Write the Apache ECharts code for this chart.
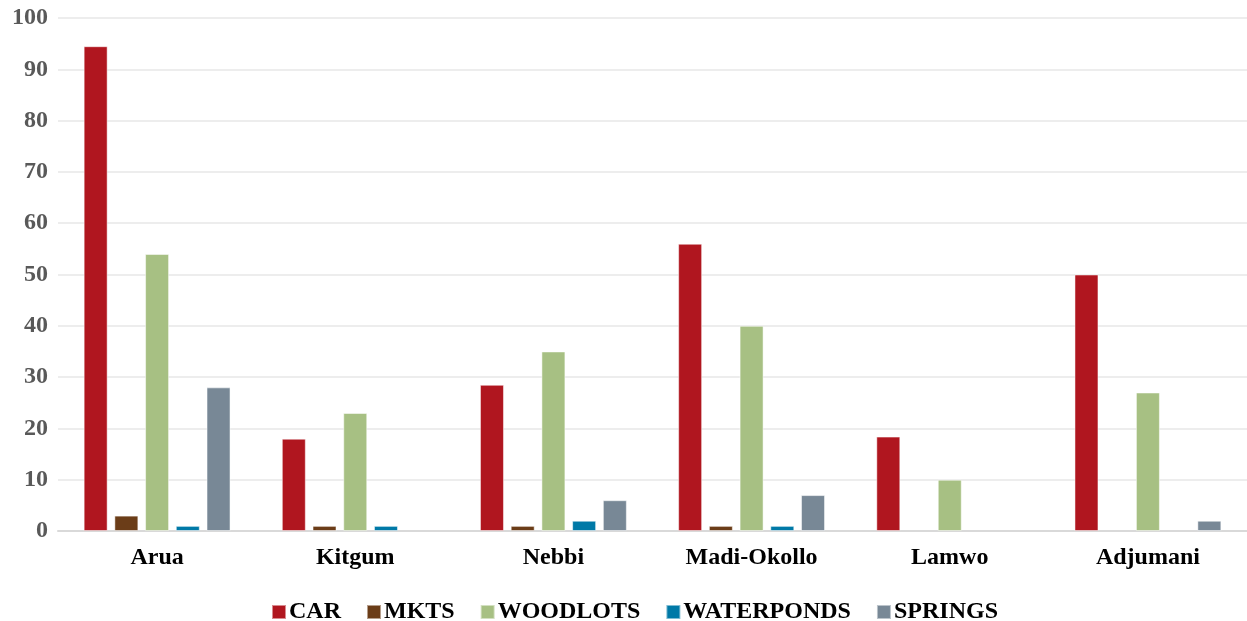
<!DOCTYPE html>
<html>
<head>
<meta charset="utf-8">
<script src="https://cdn.jsdelivr.net/npm/echarts@6/dist/echarts.min.js"></script>
<style>
  html, body { margin: 0; padding: 0; background: #fff; }
  #main { width: 1247px; height: 621px; }
</style>
</head>
<body>
<div id="main"></div>
<script>
// districts
var districts = ['Arua', 'Kitgum', 'Nebbi', 'Madi-Okollo', 'Lamwo', 'Adjumani'];
// values per series
var car = [94.5, 18, 28.5, 56, 18.4, 50];
var mkts = [3, 1, 1, 1, 0, 0];
var woodlots = [54, 23, 35, 40, 10, 27];
var waterponds = [1, 1, 2, 1, 0, 0];
var springs = [28, 0, 6, 7, 0, 2];
var yTicks = [0, 10, 20, 30, 40, 50, 60, 70, 80, 90, 100];

var seriesNames = ['CAR', 'MKTS', 'WOODLOTS', 'WATERPONDS', 'SPRINGS'];
var seriesData = [car, mkts, woodlots, waterponds, springs];
var colors = ['#B0161F', '#6B3D18', '#A7C083', '#0079A7', '#788896'];

var font = 'Liberation Serif, Times New Roman, serif';

var myChart = echarts.init(document.getElementById('main'));

var series = seriesNames.map(function (name, i) {
    return {
        name: name,
        type: 'bar',
        barWidth: 24,
        barGap: '28%',
        data: seriesData[i].map(function (v) { return v === 0 ? null : v; }),
        itemStyle: {
            color: colors[i],
            borderColor: 'rgba(255,255,255,0.5)',
            borderWidth: 1
        }
    };
});

var option = {
    animation: false,
    color: colors,
    grid: {
        left: 58,
        right: 0,
        top: 18,
        bottom: 90
    },
    legend: {
        data: seriesNames,
        top: 595,
        left: 266,
        icon: 'rect',
        itemWidth: 14,
        itemHeight: 14,
        itemGap: 25,
        textStyle: {
            fontFamily: font,
            fontWeight: 'bold',
            fontSize: 24,
            color: '#000',
            padding: [0, 0, 0, -2]
        }
    },
    xAxis: {
        type: 'category',
        data: districts,
        axisTick: { show: false },
        axisLine: { lineStyle: { color: '#d9d9d9', width: 2 } },
        axisLabel: {
            margin: 15,
            fontFamily: font,
            fontWeight: 'bold',
            fontSize: 24,
            color: '#000'
        }
    },
    yAxis: {
        type: 'value',
        min: yTicks[0],
        max: yTicks[yTicks.length - 1],
        interval: 10,
        axisLine: { show: false },
        axisTick: { show: false },
        splitLine: { lineStyle: { color: '#ededed', width: 2 } },
        axisLabel: {
            margin: 10,
            fontFamily: font,
            fontWeight: 'bold',
            fontSize: 24,
            color: '#595959'
        }
    },
    series: series
};

myChart.setOption(option);
</script>
</body>
</html>
